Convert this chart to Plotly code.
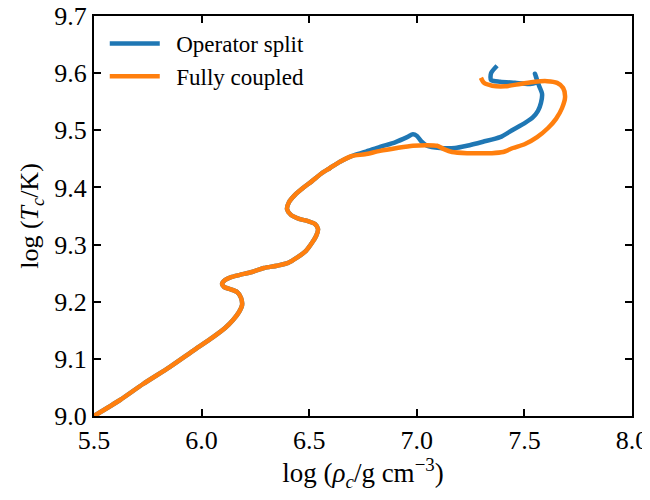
import plotly.graph_objects as go

# Shared early part of the track (both runs coincide)
common_rho = [5.500, 5.621, 5.728, 5.853, 5.960, 6.053, 6.109, 6.146, 6.174, 6.188,
              6.183, 6.165, 6.132, 6.104, 6.095, 6.109, 6.137, 6.178, 6.234, 6.290,
              6.350, 6.402, 6.443, 6.485, 6.513, 6.532, 6.541, 6.527, 6.494, 6.453,
              6.415, 6.397, 6.406, 6.434, 6.471, 6.513, 6.555, 6.597, 6.643, 6.699]
common_T = [9.000, 9.028, 9.056, 9.086, 9.114, 9.138, 9.154, 9.168, 9.182, 9.194,
            9.207, 9.217, 9.222, 9.226, 9.231, 9.238, 9.243, 9.247, 9.252, 9.259,
            9.263, 9.268, 9.277, 9.289, 9.303, 9.315, 9.327, 9.336, 9.341, 9.345,
            9.352, 9.362, 9.374, 9.387, 9.399, 9.411, 9.424, 9.434, 9.445, 9.455]

# Operator split tail
split_rho = [6.759, 6.829, 6.899, 6.955, 6.982, 7.001, 7.020, 7.047, 7.108, 7.178,
             7.233, 7.308, 7.387, 7.447, 7.503, 7.540, 7.563, 7.577, 7.582, 7.568,
             7.554, 7.549, 7.559, 7.526, 7.456, 7.387, 7.345, 7.345, 7.373]
split_T = [9.462, 9.471, 9.479, 9.488, 9.493, 9.490, 9.481, 9.473, 9.469, 9.469,
           9.473, 9.480, 9.488, 9.501, 9.513, 9.523, 9.534, 9.548, 9.564, 9.578,
           9.593, 9.599, 9.585, 9.581, 9.583, 9.585, 9.588, 9.600, 9.613]

# Fully coupled tail
coupled_rho = [6.759, 6.829, 6.908, 6.982, 7.047, 7.094, 7.126, 7.164, 7.233, 7.294,
               7.349, 7.401, 7.447, 7.503, 7.559, 7.610, 7.647, 7.675, 7.689, 7.680,
               7.652, 7.605, 7.549, 7.480, 7.410, 7.350, 7.312, 7.298]
coupled_T = [9.458, 9.464, 9.469, 9.473, 9.474, 9.473, 9.467, 9.462, 9.460, 9.460,
             9.460, 9.462, 9.469, 9.476, 9.488, 9.504, 9.520, 9.539, 9.558, 9.574,
             9.583, 9.586, 9.585, 9.581, 9.577, 9.578, 9.583, 9.592]

X_RANGE = [5.5, 8.0]
Y_RANGE = [9.0, 9.7]

FONT = "Liberation Serif"
NB = "\u00a0\u00a0"

fig = go.Figure()
fig.add_trace(go.Scatter(x=common_rho + split_rho, y=common_T + split_T, mode="lines",
                         name=NB + "Operator split",
                         line=dict(color="#1f77b4", width=4.5, shape="spline", smoothing=0.7)))
fig.add_trace(go.Scatter(x=common_rho + coupled_rho, y=common_T + coupled_T, mode="lines",
                         name=NB + "Fully coupled",
                         line=dict(color="#ff7f0e", width=4.5, shape="spline", smoothing=0.7)))

major = dict(
    tickmode="linear", tickformat=".1f",
    showgrid=False, zeroline=False, showline=True, linecolor="black", linewidth=2,
    mirror="ticks", ticks="inside", ticklen=7, tickwidth=1.5, tickcolor="black",
    tickfont=dict(family=FONT, size=26, color="black"), automargin=False,
    ticklabeloverflow="allow",
)

fig.update_layout(
    xaxis=dict(range=X_RANGE, tick0=5.5, dtick=0.5,
               title=dict(text="log (<i>ρ</i><sub><i>c</i></sub>/g cm<sup>−3</sup>)",
                          font=dict(family=FONT, size=27, color="black"), standoff=6),
               **major),
    yaxis=dict(range=Y_RANGE, tick0=9.0, dtick=0.1,
               title=dict(text="log (<i>T</i><sub><i>c</i></sub>/K)",
                          font=dict(family=FONT, size=26, color="black"), standoff=8),
               **major),
    width=634, height=484,
    margin=dict(l=86, r=10, t=8, b=76),
    plot_bgcolor="white", paper_bgcolor="white",
    font=dict(family=FONT, color="black"),
    legend=dict(x=0.02, y=0.985, xanchor="left", yanchor="top",
                bgcolor="rgba(0,0,0,0)", font=dict(family=FONT, size=23, color="black"),
                itemwidth=50, tracegroupgap=2),
    showlegend=True,
)

fig.write_html("out.html")
